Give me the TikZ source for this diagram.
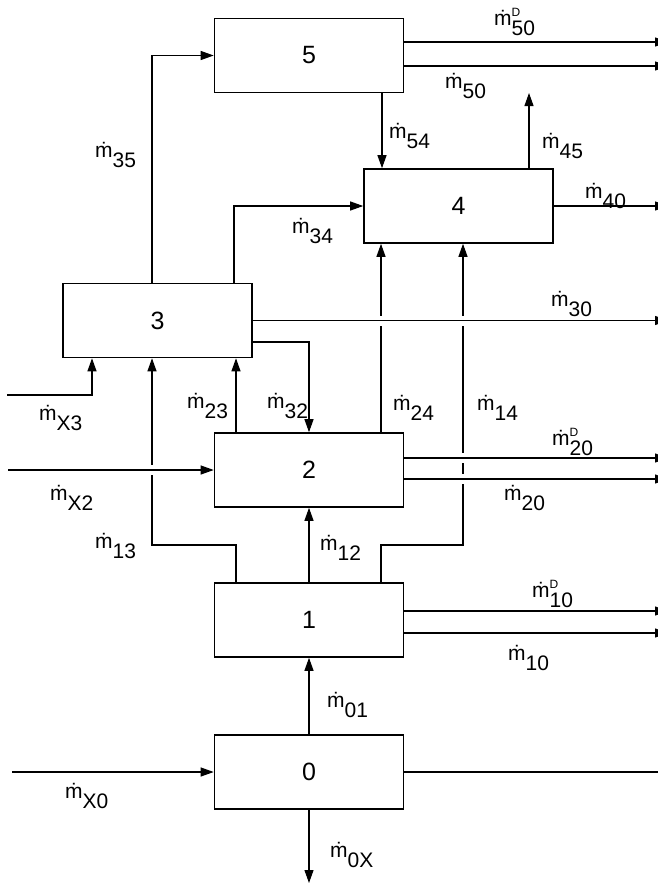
\documentclass[tikz,border=0pt]{standalone}
\usepackage{fontspec}
\setmainfont{Liberation Sans}
\usetikzlibrary{arrows.meta,positioning,calc}
% mass flow labels: m with a dot, lowered index, optional D
\newcommand\mdot{ṁ}
\newcommand\flw[1]{\mdot\raisebox{-0.5em}{#1}}
\newcommand\flwD[1]{\mdot\rlap{\raisebox{0.42em}{\fontsize{12}{12}\selectfont D}}\raisebox{-0.5em}{#1}}

\begin{document}
\begin{tikzpicture}[x=1pt,y=-1pt,font=\fontsize{21}{25}\selectfont,
    unitbox/.style={draw,line width=1.6pt,minimum width=189pt,minimum height=74pt,
                    inner sep=0pt,font=\fontsize{25}{30}\selectfont},
    flow/.style={line width=1.1pt,-{Triangle[length=13pt,width=9pt]}},
    bare/.style={line width=1.1pt},
    hop/.style={preaction={draw=white,line width=10pt,-,shorten <=2pt,shorten >=2pt}},
    lbl/.style={anchor=base west,inner sep=0pt}]
              \path[use as bounding box,clip] (0,0) rectangle (658,884);

              \node[unitbox] (b5) at (309,55.5) {5};
              \node[unitbox] (b4) at (458.5,206) {4};
              \node[unitbox] (b3) at (157.5,320.5) {3};
              \node[unitbox] (b2) at (309,470) {2};
              \node[unitbox] (b1) at (309,620) {1};
              \node[unitbox] (b0) at (309,772) {0};

              \coordinate (rim) at (668,0);
              \coordinate (i3) at (7,395);
              \coordinate (i2) at (8,470);
              \coordinate (i0) at (12,772);
              \coordinate (o45) at (529,93);
              \coordinate (o0X) at (309,883);

              % vertical streams first
              \draw[flow] (b3.north -| 152,0) |- (b5.west);
              \draw[flow] (b3.north -| 234,0) |- (b4.west);
              \draw[flow] (b5.south -| 382,0) -- (b4.north -| 382,0);
              \draw[flow] (b4.north -| 529,0) -- (o45);
              \draw[flow] (b1.north -| 236,0) |- (152,545) -- (b3.south -| 152,0);
              \draw[flow] (b2.north -| 236,0) -- (b3.south -| 236,0);
              \draw[flow] (b3.east |- 0,342) -| (b2.north);
              \draw[flow] (b1.north) -- (b2.south);
              \draw[flow] (b2.north -| 381,0) -- (b4.south -| 381,0);
              \draw[flow] (b1.north -| 381,0) |- (463,545) -- (b4.south -| 463,0);
              \draw[flow] (b0.north) -- (b1.south);
              \draw[flow] (b0.south) -- (o0X);
              \draw[flow] (i3) -| (b3.south -| 92,0);

              % horizontal streams, crossing ones with a hop
              \draw[flow,hop] (b3.east) -- (b3.east -| rim);
              \draw[flow,hop] (i2) -- (b2.west);
              \draw[flow,hop] (b2.east |- 0,458) -- (rim |- 0,458);
              \draw[flow,hop] (b2.east |- 0,479) -- (rim |- 0,479);
              \draw[flow] (b5.east |- 0,42) -- (rim |- 0,42);
              \draw[flow] (b5.east |- 0,66) -- (rim |- 0,66);
              \draw[flow] (b4.east) -- (b4.east -| rim);
              \draw[flow] (b1.east |- 0,611) -- (rim |- 0,611);
              \draw[flow] (b1.east |- 0,633) -- (rim |- 0,633);
              \draw[flow] (i0) -- (b0.west);
              \draw[bare] (b0.east) -- (b0.east -| 658,0);

              \node[lbl] (l35) at (95,157) {\flw{35}};
              \node[lbl] (l34) at (292,233) {\flw{34}};
              \node[lbl] (l50D) at (494,25) {\flwD{50}};
              \node[lbl] (l50) at (445,88) {\flw{50}};
              \node[lbl] (l54) at (389,138) {\flw{54}};
              \node[lbl] (l45) at (542,148) {\flw{45}};
              \node[lbl] (l40) at (585,198) {\flw{40}};
              \node[lbl] (l30) at (551,306) {\flw{30}};
              \node[lbl] (lX3) at (39,420) {\flw{X3}};
              \node[lbl] (l23) at (187,408) {\flw{23}};
              \node[lbl] (l32) at (267,408) {\flw{32}};
              \node[lbl] (l24) at (393,410) {\flw{24}};
              \node[lbl] (l14) at (477,410) {\flw{14}};
              \node[lbl] (l20D) at (552,445) {\flwD{20}};
              \node[lbl] (lX2) at (50,500) {\flw{X2}};
              \node[lbl] (l20) at (504,500) {\flw{20}};
              \node[lbl] (l13) at (95,548) {\flw{13}};
              \node[lbl] (l12) at (320,550) {\flw{12}};
              \node[lbl] (l10D) at (532,597) {\flwD{10}};
              \node[lbl] (l10) at (508,660) {\flw{10}};
              \node[lbl] (l01) at (327,707) {\flw{01}};
              \node[lbl] (lX0) at (65,798) {\flw{X0}};
              \node[lbl] (l0X) at (330,857) {\flw{0X}};
            \end{tikzpicture}
\end{document}
